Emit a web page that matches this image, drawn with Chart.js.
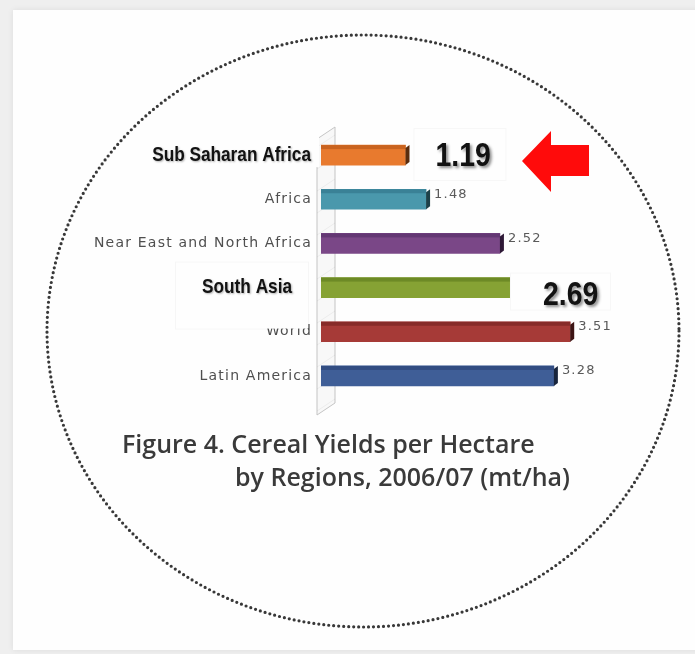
<!DOCTYPE html>
<html>
<head>
<meta charset="utf-8">
<title>Cereal Yields per Hectare</title>
<script src="https://cdn.jsdelivr.net/npm/chart.js@4.4.1/dist/chart.umd.min.js"></script>
<style>
  html, body { margin: 0; padding: 0; }
  body { width: 695px; height: 654px; background: #efefef; position: relative; overflow: hidden; }
  .card { position: absolute; left: 13px; top: 10px; width: 690px; height: 640px; background: #fefefe; box-shadow: 0 0 6px rgba(0,0,0,0.08); }
  #yieldChart { position: absolute; left: 0; top: 0; }
  .caption { position: absolute; font-family: "Open Sans", sans-serif; font-weight: 600; font-size: 25px; line-height: 30px; color: #3a3a3a; white-space: nowrap; }
</style>
</head>
<body>
<div class="card"></div>
<canvas id="yieldChart" width="695" height="654"></canvas>
<div class="caption" style="left:122px; top:428px">Figure 4. Cereal Yields per Hectare</div>
<div class="caption" style="left:235px; top:461px">by Regions, 2006/07 (mt/ha)</div>
<script>
// setup
const regions = ['Sub Saharan Africa', 'Africa', 'Near East and North Africa', 'South Asia', 'World', 'Latin America'];
const yields = [1.19, 1.48, 2.52, 2.69, 3.51, 3.28];
const highlighted = ['Sub Saharan Africa', 'South Asia'];

// front face, top face and end cap of each 3d bar
const faceColors = ['#e87a2e', '#4a98ac', '#7a4787', '#86a234', '#a63a37', '#3f5e97'];
const topColors = ['#c9631f', '#3a8196', '#633773', '#6d8a26', '#872b29', '#324d82'];
const endColors = ['#5a2d0e', '#1d4048', '#2e1836', '#364612', '#3d1414', '#18253d'];

const boldFont = '"Liberation Sans", Arial, sans-serif';
const plainFont = '"DejaVu Sans", sans-serif';

// arial-narrow look: bold text squeezed sideways
function narrowText(ctx, text, x, y, size, squeeze, align, shadow) {
  ctx.save();
  ctx.letterSpacing = '0px';
  ctx.font = 'bold ' + size + 'px ' + boldFont;
  ctx.fillStyle = '#121212';
  ctx.textAlign = align;
  ctx.textBaseline = 'middle';
  ctx.shadowColor = shadow.color;
  ctx.shadowOffsetX = shadow.offset;
  ctx.shadowOffsetY = shadow.offset;
  ctx.shadowBlur = shadow.blur;
  ctx.translate(x, y);
  ctx.scale(squeeze, 1);
  ctx.fillText(text, 0, 0);
  ctx.restore();
}

// dotted oval round the whole figure, plus the spaced-out label lettering
const ovalFrame = {
  id: 'ovalFrame',
  beforeLayout(chart) {
    chart.ctx.letterSpacing = '1.2px';
  },
  beforeDraw(chart) {
    const ctx = chart.ctx;
    ctx.letterSpacing = '1.2px';
    ctx.save();
    ctx.strokeStyle = '#383838';
    ctx.lineWidth = 3.2;
    ctx.lineCap = 'round';
    ctx.setLineDash([0, 5]);
    ctx.beginPath();
    ctx.ellipse(363, 331, 316, 296, 0, 0, Math.PI * 2);
    ctx.stroke();
    ctx.restore();
  }
};

// excel style 3d look: back wall, bar tops and end caps, labels
const bars3d = {
  id: 'bars3d',
  beforeDatasetsDraw(chart) {
    const ctx = chart.ctx;
    const a = chart.chartArea;
    const l = a.left - 4, r = a.left + 14;
    ctx.save();
    ctx.beginPath();
    ctx.moveTo(l, a.top + 6);
    ctx.lineTo(r, a.top - 6);
    ctx.lineTo(r, a.bottom + 5);
    ctx.lineTo(l, a.bottom + 17);
    ctx.closePath();
    ctx.fillStyle = '#f8f8f8';
    ctx.fill();
    ctx.strokeStyle = '#c4c4c4';
    ctx.lineWidth = 1;
    ctx.stroke();
    // faint stripes on the wall
    ctx.clip();
    ctx.strokeStyle = 'rgba(0,0,0,0.05)';
    for (let y = a.top - 20; y < a.bottom + 30; y += 22) {
      ctx.beginPath();
      ctx.moveTo(l, y + 12);
      ctx.lineTo(r, y);
      ctx.stroke();
    }
    ctx.restore();

    // pasted label patch hides the top of the wall
    const first = chart.getDatasetMeta(0).data[0];
    ctx.save();
    ctx.fillStyle = '#fefefe';
    ctx.fillRect(140, a.top - 4, a.left - 142, first.y + 12 - a.top + 4);
    ctx.restore();
  },
  afterDatasetsDraw(chart) {
    const ctx = chart.ctx;
    const a = chart.chartArea;
    const bars = chart.getDatasetMeta(0).data;
    ctx.save();

    bars.forEach((bar, i) => {
      const top = bar.y - bar.height / 2;
      const bottom = bar.y + bar.height / 2;
      ctx.fillStyle = topColors[i];
      ctx.fillRect(bar.base, top, bar.x - bar.base, 4);
      ctx.fillStyle = endColors[i];
      ctx.beginPath();
      ctx.moveTo(bar.x, top + 3);
      ctx.lineTo(bar.x + 4, top);
      ctx.lineTo(bar.x + 4, bottom - 3);
      ctx.lineTo(bar.x, bottom);
      ctx.closePath();
      ctx.fill();
    });

    // plain value labels
    ctx.font = '13px ' + plainFont;
    ctx.fillStyle = '#5a5a5a';
    ctx.textAlign = 'left';
    ctx.textBaseline = 'middle';
    bars.forEach((bar, i) => {
      if (highlighted.includes(regions[i])) return;
      ctx.fillText(yields[i].toFixed(2), bar.x + 8, bar.y - 5);
    });

    const patch = (x, y, w, h) => {
      ctx.fillStyle = '#fefefe';
      ctx.fillRect(x, y, w, h);
      ctx.strokeStyle = 'rgba(0,0,0,0.03)';
      ctx.lineWidth = 1;
      ctx.strokeRect(x + 0.5, y + 0.5, w, h);
    };
    const bigShadow = { color: 'rgba(0,0,0,0.45)', offset: 2, blur: 3 };
    const nameShadow = { color: 'rgba(0,0,0,0.3)', offset: 1, blur: 2 };

    bars.forEach((bar, i) => {
      const name = regions[i];
      if (!highlighted.includes(name)) return;
      const text = yields[i].toFixed(2);
      if (i === 0) {
        patch(bar.x + 8, bar.y - 27, 92, 52);
        narrowText(ctx, text, bar.x + 30, bar.y + 2, 33, 0.86, 'left', bigShadow);
        narrowText(ctx, name, a.left - 10, bar.y, 21, 0.82, 'right', nameShadow);
      } else {
        patch(bar.x - 2, bar.y - 15, 100, 37);
        narrowText(ctx, text, bar.x + 31, bar.y + 8, 33, 0.86, 'left', bigShadow);
        patch(175, bar.y - 26, a.left - 188, 67);
        narrowText(ctx, name, a.left - 29, bar.y, 21, 0.82, 'right', nameShadow);
      }
    });

    // red arrow pointing at the Sub Saharan value
    const row = bars[0].y + 6;
    const tip = a.left + 201;
    ctx.fillStyle = '#ff0b0b';
    ctx.beginPath();
    ctx.moveTo(tip, row);
    ctx.lineTo(tip + 29, row - 30);
    ctx.lineTo(tip + 29, row - 16);
    ctx.lineTo(tip + 67, row - 16);
    ctx.lineTo(tip + 67, row + 15);
    ctx.lineTo(tip + 29, row + 15);
    ctx.lineTo(tip + 29, row + 31);
    ctx.closePath();
    ctx.fill();

    ctx.restore();
  }
};

// config
const config = {
  type: 'bar',
  data: {
    labels: regions,
    datasets: [{
      label: 'Cereal yield (mt/ha)',
      data: yields,
      backgroundColor: faceColors,
      borderWidth: 0,
      barThickness: 20
    }]
  },
  options: {
    indexAxis: 'y',
    responsive: false,
    animation: false,
    layout: { padding: { top: 133, bottom: 256, left: 0, right: 90 } },
    plugins: {
      legend: { display: false },
      tooltip: { enabled: false }
    },
    scales: {
      x: { display: false, min: 0, max: 4 },
      y: {
        grid: { display: false, drawTicks: false },
        border: { display: false },
        afterFit(scale) { scale.width = 321; },
        ticks: {
          padding: 9,
          color: '#4f4f4f',
          font: { family: plainFont, size: 14 },
          callback(value) {
            const name = this.getLabelForValue(value);
            return highlighted.includes(name) ? '' : name;
          }
        }
      }
    }
  },
  plugins: [ovalFrame, bars3d]
};

// render init block
const yieldChart = new Chart(document.getElementById('yieldChart'), config);
</script>
</body>
</html>
